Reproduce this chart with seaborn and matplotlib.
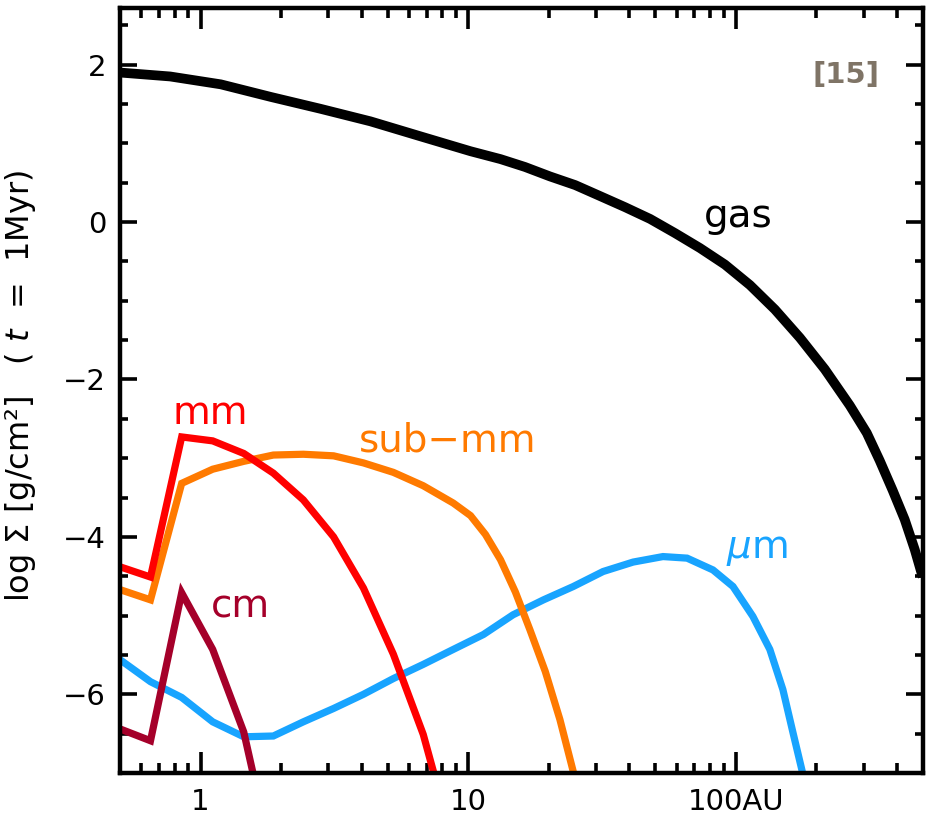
import numpy as np
import pandas as pd
import matplotlib
matplotlib.use("Agg")
import matplotlib.pyplot as plt
import seaborn as sns
from matplotlib.ticker import LogLocator, MultipleLocator, FixedLocator, FixedFormatter, NullFormatter

# ---------------- data ----------------
r_gas = [0.50, 0.77, 1.19, 1.83, 2.80, 4.31, 6.62, 10.2, 13.2, 16.3, 20.2, 25.1, 31.1, 38.5,
         47.8, 59.2, 73.4, 91.0, 112.8, 139.8, 173.4, 214.8, 266.4, 308.3, 344.5, 385.3,
         427.2, 465.6, 498.6]
sig_gas = [1.90, 1.85, 1.75, 1.59, 1.44, 1.28, 1.09, 0.90, 0.80, 0.70, 0.58, 0.47, 0.33, 0.19,
           0.04, -0.14, -0.33, -0.54, -0.80, -1.11, -1.47, -1.87, -2.33, -2.68, -3.03, -3.41,
           -3.78, -4.16, -4.51]

r_mm = [0.50, 0.65, 0.85, 1.11, 1.45, 1.87, 2.42, 3.14, 4.06, 5.25, 6.79, 8.79]
sig_mm = [-4.38, -4.51, -2.73, -2.78, -2.94, -3.19, -3.53, -4.00, -4.65, -5.49, -6.51, -7.90]

r_submm = [0.50, 0.65, 0.85, 1.11, 1.45, 1.87, 2.42, 3.14, 4.06, 5.25, 6.79, 8.79,
           10.2, 11.6, 13.2, 15.0, 17.0, 19.4, 22.0, 25.1]
sig_submm = [-4.67, -4.80, -3.32, -3.14, -3.04, -2.96, -2.95, -2.97, -3.06, -3.18, -3.35, -3.57,
             -3.73, -3.97, -4.29, -4.70, -5.18, -5.71, -6.32, -7.08]

r_cm = [0.50, 0.65, 0.85, 1.11, 1.45, 1.87]
sig_cm = [-6.44, -6.59, -4.71, -5.43, -6.48, -8.15]

r_um = [0.50, 0.65, 0.85, 1.11, 1.45, 1.87, 2.42, 3.14, 4.06, 5.25, 6.79, 8.79, 11.4,
        14.7, 19.1, 24.7, 31.9, 41.3, 53.4, 65.7, 82.1, 97.5, 115.7, 133.9, 149.8, 163.2, 177.8]
sig_um = [-5.56, -5.84, -6.04, -6.35, -6.54, -6.53, -6.35, -6.18, -6.00, -5.80, -5.62, -5.43, -5.24,
          -4.99, -4.80, -4.63, -4.44, -4.32, -4.25, -4.27, -4.42, -4.63, -5.01, -5.43, -5.94, -6.48, -7.01]

x_ticks = [1, 10, 100]
x_ticklabels = ["1", "10", "100AU"]
y_ticks = [-6, -4, -2, 0, 2]

colors = {"gas": "#000000", "mm": "#FF0000", "sub-mm": "#FF7A00",
          "cm": "#A5002A", "um": "#18A4FF"}

# ---------------- build tidy table ----------------
frames = []
for name, r, s in [("gas", r_gas, sig_gas), ("mm", r_mm, sig_mm), ("sub-mm", r_submm, sig_submm),
                   ("cm", r_cm, sig_cm), ("um", r_um, sig_um)]:
    frames.append(pd.DataFrame({"r": r, "sigma": s, "species": name}))
df = pd.concat(frames, ignore_index=True)

# ---------------- plot ----------------
sns.set_theme(style="white")
plt.rcParams["font.family"] = ["DejaVu Sans"]
plt.rcParams["mathtext.fontset"] = "dejavusans"
for k in ["text.color", "axes.labelcolor", "xtick.color", "ytick.color"]:
    plt.rcParams[k] = "black"

fig = plt.figure(figsize=(9.28, 8.31), dpi=100)
ax = fig.add_axes([120 / 928, 1 - 773 / 831, (923 - 120) / 928, (773 - 8) / 831])

widths = {"gas": 7.0, "mm": 5.2, "sub-mm": 5.2, "cm": 5.2, "um": 5.2}
for name in ["um", "cm", "sub-mm", "mm", "gas"]:
    sub = df[df["species"] == name]
    sns.lineplot(data=sub, x="r", y="sigma", ax=ax, color=colors[name],
                 linewidth=widths[name], estimator=None, sort=False, legend=False,
                 solid_joinstyle="miter", solid_capstyle="butt")

ax.set_xscale("log")
ax.set_xlim(0.5, 500)
ax.set_ylim(-7, 2.72)

ax.xaxis.set_major_locator(FixedLocator(x_ticks))
ax.xaxis.set_major_formatter(FixedFormatter(x_ticklabels))
ax.xaxis.set_minor_locator(LogLocator(base=10, subs=np.arange(2, 10), numticks=20))
ax.xaxis.set_minor_formatter(NullFormatter())
ax.yaxis.set_major_locator(FixedLocator(y_ticks))
ax.yaxis.set_minor_locator(MultipleLocator(0.5))
ax.yaxis.set_major_formatter(plt.FuncFormatter(lambda v, p: f"{int(v)}".replace("-", "\u2212")))

ax.tick_params(axis="x", which="major", direction="in", length=15, width=2.6,
               top=True, bottom=True, labelsize=21, pad=11, color="black", labelcolor="black")
ax.tick_params(axis="x", which="minor", direction="in", length=7.5, width=2.6,
               top=True, bottom=True, color="black")
ax.tick_params(axis="y", which="major", direction="in", length=12, width=2.6,
               left=True, right=True, labelsize=21, pad=10, color="black", labelcolor="black")
ax.tick_params(axis="y", which="minor", direction="in", length=6, width=2.6,
               left=True, right=True, color="black")

for sp in ax.spines.values():
    sp.set_linewidth(3.2)
    sp.set_color("black")

ax.set_xlabel("")
ax.set_ylabel("log \u03a3 [g/cm\u00b2]   ( $t$  =  1Myr)", fontsize=23, color="black")
ax.yaxis.label.set_va("center")
ax.yaxis.label.set_ha("center")
ax.yaxis.set_label_coords((21 - 120) / 803, (773 - 386) / 765)

ax.text(101.9, 0.08, "gas", color=colors["gas"], fontsize=28, ha="center", va="center")
ax.text(1.09, -2.42, "mm", color=colors["mm"], fontsize=28, ha="center", va="center")
ax.text(8.4, -2.77, "sub\u2212mm", color=colors["sub-mm"], fontsize=28, ha="center", va="center")
ax.text(1.41, -4.89, "cm", color=colors["cm"], fontsize=28, ha="center", va="center")
ax.text(119.6, -4.16, r"$\mu$m", color=colors["um"], fontsize=28, ha="center", va="center")
ax.text(258, 1.87, "[15]", color="#7F7466", fontsize=21, fontweight="bold", ha="center", va="center")

fig.savefig("out.png", dpi=100)
